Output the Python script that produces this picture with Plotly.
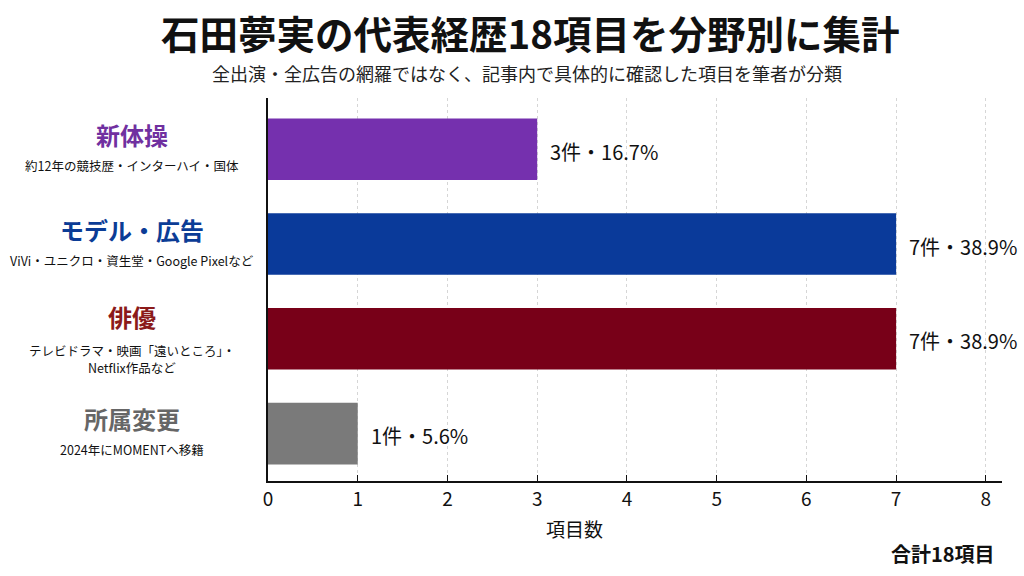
import plotly.graph_objects as go

categories = ["新体操", "モデル・広告", "俳優", "所属変更"]
subtitles = [["約12年の競技歴・インターハイ・国体"],
             ["ViVi・ユニクロ・資生堂・Google Pixelなど"],
             ["テレビドラマ・映画「遠いところ」・", "Netflix作品など"],
             ["2024年にMOMENTへ移籍"]]
counts = [3, 7, 7, 1]
percents = [16.7, 38.9, 38.9, 5.6]
bar_colors = ["#7530AE", "#0A3A9A", "#780018", "#7A7A7A"]
label_colors = ["#7030A0", "#0B3C96", "#8B1A1A", "#666666"]
x_ticks = [0, 1, 2, 3, 4, 5, 6, 7, 8]

FONT = "Noto Sans CJK JP"
n = len(categories)
ypos = [n - 1 - i for i in range(n)]

L, R, T, B = 268, 22, 98, 95
PW = 1024 - L - R

fig = go.Figure()
fig.add_trace(go.Bar(
    x=counts, y=ypos, orientation="h",
    marker=dict(color=bar_colors, line=dict(width=0)),
    width=0.65,
    hoverinfo="skip",
))

annotations = []
label_x = (132 - L) / PW
for i, (cat, subs) in enumerate(zip(categories, subtitles)):
    y = ypos[i]
    two_line = len(subs) > 1
    annotations.append(dict(
        x=label_x, xref="paper", y=y, yref="y", text=f"<b>{cat}</b>",
        showarrow=False, xanchor="center", yanchor="middle",
        yshift=(22 if two_line else 15),
        font=dict(family=FONT, size=24, color=label_colors[i])))
    shifts = [-12, -29] if two_line else [-16]
    for line, ys in zip(subs, shifts):
        annotations.append(dict(
            x=label_x, xref="paper", y=y, yref="y", text=line,
            showarrow=False, xanchor="center", yanchor="middle",
            yshift=ys, borderpad=0,
            font=dict(family=FONT, size=12.5, color="#111111")))
    annotations.append(dict(
        x=counts[i], xref="x", y=y, yref="y",
        text=f"{counts[i]}件・{percents[i]}%",
        showarrow=False, xanchor="left", yanchor="middle", xshift=11, yshift=-2,
        font=dict(family=FONT, size=20, color="#111111")))

annotations.append(dict(
    text="<b>石田夢実の代表経歴18項目を分野別に集計</b>",
    xref="paper", yref="paper", x=(530 - L) / PW, y=1.0, yshift=T - 32,
    xanchor="center", yanchor="middle", showarrow=False,
    font=dict(family=FONT, size=38.5, color="#111111")))
annotations.append(dict(
    text="全出演・全広告の網羅ではなく、記事内で具体的に確認した項目を筆者が分類",
    xref="paper", yref="paper", x=(527 - L) / PW, y=1.0, yshift=T - 73,
    xanchor="center", yanchor="middle", showarrow=False,
    font=dict(family=FONT, size=18, color="#222222")))
annotations.append(dict(
    text="項目数",
    xref="paper", yref="paper", x=(574 - L) / PW, y=0.0, yshift=-47,
    xanchor="center", yanchor="middle", showarrow=False,
    font=dict(family=FONT, size=19, color="#111111")))
annotations.append(dict(
    text="<b>合計18項目</b>",
    xref="paper", yref="paper", x=1.0, y=0.0, yshift=-72, xshift=-5,
    xanchor="right", yanchor="middle", showarrow=False,
    font=dict(family=FONT, size=20, color="#111111")))

fig.update_layout(
    width=1024, height=576,
    margin=dict(l=L, r=R, t=T, b=B),
    paper_bgcolor="white", plot_bgcolor="white",
    showlegend=False,
    font=dict(family=FONT, color="#111111"),
    annotations=annotations,
    xaxis=dict(
        range=[0, 8.18], tickvals=x_ticks, ticktext=[str(t) for t in x_ticks],
        showgrid=True, gridcolor="#D6D6D6", griddash="dot", gridwidth=1,
        showline=True, linecolor="#111111", linewidth=2,
        ticks="inside", ticklen=6, tickcolor="#111111",
        tickfont=dict(family=FONT, size=19, color="#111111"),
        zeroline=False,
    ),
    yaxis=dict(
        range=[-0.5, 3.54], showticklabels=False, showgrid=False,
        showline=True, linecolor="#111111", linewidth=2, zeroline=False,
        ticks="",
    ),
)

fig.write_html("out.html")
